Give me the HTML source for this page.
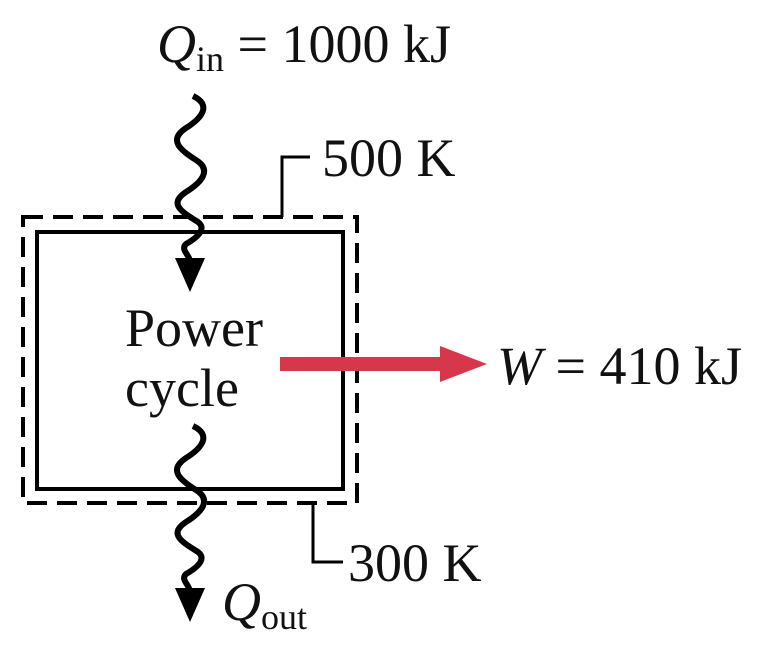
<!DOCTYPE html>
<html><head><style>
body{margin:0;background:#fff}
svg{display:block}
text{font-family:"Liberation Serif",serif;fill:#111}
</style></head><body>
<svg width="782" height="654" viewBox="0 0 782 654" xmlns="http://www.w3.org/2000/svg">
<rect x="23" y="217" width="334" height="286" fill="none" stroke="#000" stroke-width="4" stroke-dasharray="20,10"/>
<rect x="37" y="232" width="306" height="257" fill="none" stroke="#000" stroke-width="4"/>
<path d="M193,96 C212,105 202,118 186,128 C168,140 180,150 196,160 C212,170 202,182 186,192 C168,204 182,212 198,222 C206,228 200,236 186,244 C180,250 190,255 190,262" fill="none" stroke="#000" stroke-width="6"/>
<polygon points="175,258 205,258 190,292" fill="#000"/>
<path d="M193,426 C212,435 202,448 186,458 C168,470 180,480 196,490 C212,500 202,512 186,522 C168,534 182,542 198,552 C206,558 200,566 186,574 C180,580 190,585 190,592" fill="none" stroke="#000" stroke-width="6"/>
<polygon points="175,588 205,588 190,622" fill="#000"/>
<polyline points="282,217 282,157 310,157" fill="none" stroke="#000" stroke-width="3"/>
<polyline points="313,503 313,562 343,562" fill="none" stroke="#000" stroke-width="3"/>
<rect x="280" y="357" width="162" height="14" fill="#d7374b"/>
<polygon points="440,346 487,364 440,382" fill="#d7374b"/>
<text x="157" y="62" font-size="54"><tspan font-style="italic">Q</tspan><tspan font-size="36" dy="9">in</tspan><tspan dy="-9"> = 1000 kJ</tspan></text>
<text x="322" y="176" font-size="54">500 K</text>
<text x="348" y="581" font-size="54">300 K</text>
<text x="125" y="346" font-size="54">Power</text>
<text x="125" y="406" font-size="54">cycle</text>
<text x="497" y="384" font-size="54"><tspan font-style="italic">W</tspan> = 410 kJ</text>
<text x="222" y="620" font-size="54"><tspan font-style="italic">Q</tspan><tspan font-size="36" dy="9">out</tspan></text>
</svg>
</body></html>
